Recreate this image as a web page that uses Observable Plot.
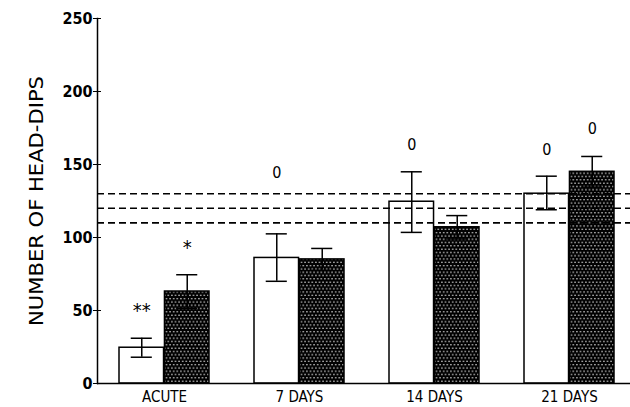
<!DOCTYPE html>
<html><head><meta charset="utf-8">
<script src="https://cdn.jsdelivr.net/npm/d3@7"></script>
<script src="https://cdn.jsdelivr.net/npm/@observablehq/plot@0.6"></script>
<style>body{margin:0;background:#fff}</style>
</head><body><div id="chart"></div>
<script>
const categories = ["ACUTE", "7 DAYS", "14 DAYS", "21 DAYS"];
const openMean = [24.5, 86, 124.5, 130];
const openHi = [31, 102.5, 145, 142];
const openLo = [18, 70, 103.5, 119];
const filledMean = [63, 85, 107, 145];
const filledHi = [74.5, 92.5, 115, 155.5];
const filledLo = [51.5, 77.5, 99, 134.5];
const refLines = [130, 120, 110];
const yTicks = [0, 50, 100, 150, 200, 250];
const annCat = ["ACUTE", "ACUTE", "7 DAYS", "14 DAYS", "21 DAYS", "21 DAYS"];
const annGroup = ["open", "filled", "open", "open", "open", "filled"];
const annValue = [50, 93, 144, 163.5, 160, 174.5];
const annText = ["**", "*", "0", "0", "0", "0"];
const yLabel = "NUMBER OF HEAD-DIPS";

const openRows = categories.map((c, i) => ({cat: c, mean: openMean[i], hi: openHi[i], lo: openLo[i]}));
const filledRows = categories.map((c, i) => ({cat: c, mean: filledMean[i], hi: filledHi[i], lo: filledLo[i]}));
const ann = annText.map((t, i) => ({cat: annCat[i], group: annGroup[i], value: annValue[i], text: t}));

const xRange = [118, 616];
const padInner = 0.33;
const bw = (xRange[1] - xRange[0]) / (categories.length - padInner) * (1 - padInner);
const half = bw / 2;
const q = half / 2;
const capHalf = 11;
const font = "'DejaVu Sans Condensed', 'Liberation Sans Narrow', 'DejaVu Sans', sans-serif";

const defs = () => {
  const d = d3.create("svg:defs");
  const p = d.append("pattern").attr("id", "dots").attr("patternUnits", "userSpaceOnUse")
    .attr("width", 3.6).attr("height", 6.6);
  p.append("rect").attr("width", 3.6).attr("height", 6.6).attr("fill", "#000");
  p.append("circle").attr("cx", 0.9).attr("cy", 1.65).attr("r", 0.75).attr("fill", "#fff");
  p.append("circle").attr("cx", 2.7).attr("cy", 4.95).attr("r", 0.75).attr("fill", "#fff");
  return d.node();
};

const chart = Plot.plot({
  width: 630,
  height: 407,
  marginLeft: 97,
  marginRight: 0,
  marginTop: 18,
  marginBottom: 24,
  style: {fontFamily: font, background: "#fff", color: "#000"},
  x: {type: "band", domain: categories, range: xRange, paddingInner: padInner, paddingOuter: 0},
  y: {domain: [0, 250]},
  marks: [
    defs,
    Plot.barY(openRows, {x: "cat", y: "mean", insetRight: half, fill: "white", stroke: "black", strokeWidth: 1.5}),
    Plot.barY(filledRows, {x: "cat", y: "mean", insetLeft: half, fill: "url(#dots)", stroke: "black", strokeWidth: 1.5}),
    Plot.ruleX(openRows, {x: "cat", y1: "lo", y2: "hi", dx: -q, stroke: "black", strokeWidth: 1.5}),
    Plot.tickY(openRows, {x: "cat", y: "hi", insetLeft: q - capHalf, insetRight: bw - q - capHalf, stroke: "black", strokeWidth: 1.5}),
    Plot.tickY(openRows, {x: "cat", y: "lo", insetLeft: q - capHalf, insetRight: bw - q - capHalf, stroke: "black", strokeWidth: 1.5}),
    Plot.ruleX(filledRows, {x: "cat", y1: "lo", y2: "hi", dx: q, stroke: "black", strokeWidth: 1.5}),
    Plot.tickY(filledRows, {x: "cat", y: "hi", insetLeft: bw - q - capHalf, insetRight: q - capHalf, stroke: "black", strokeWidth: 1.5}),
    Plot.tickY(filledRows, {x: "cat", y: "lo", insetLeft: bw - q - capHalf, insetRight: q - capHalf, stroke: "black", strokeWidth: 1.5}),
    Plot.ruleY(refLines, {stroke: "black", strokeWidth: 1.6, strokeDasharray: "7,4"}),
    Plot.text(ann.filter(d => d.group === "open"), {x: "cat", y: "value", text: "text", dx: -q, fontSize: d => d.text === "0" ? 16 : 20, fontWeight: d => d.text === "0" ? "normal" : "bold"}),
    Plot.text(ann.filter(d => d.group === "filled"), {x: "cat", y: "value", text: "text", dx: q, fontSize: d => d.text === "0" ? 16 : 20, fontWeight: d => d.text === "0" ? "normal" : "bold"}),
    Plot.frame({anchor: "left", strokeWidth: 1.5}),
    Plot.ruleY([0], {strokeWidth: 1.5}),
    Plot.axisY({ticks: yTicks, tickSize: 4, tickPadding: 1, fontSize: 16, fontWeight: "bold", label: null}),
    Plot.axisY({ticks: yTicks, tickSize: -4, text: null, label: null}),
    Plot.axisX({tickSize: 0, tickPadding: 8, fontSize: 15, label: null}),
    Plot.text([yLabel], {frameAnchor: "left", textAnchor: "middle", lineAnchor: "middle", rotate: -90, dx: -61, fontSize: 19, text: d => d})
  ]
});
d3.select(chart).selectAll("text").filter(function() { return this.textContent === yLabel; })
  .attr("textLength", 250).attr("lengthAdjust", "spacingAndGlyphs");
document.getElementById("chart").appendChild(chart);
</script>
</body></html>
